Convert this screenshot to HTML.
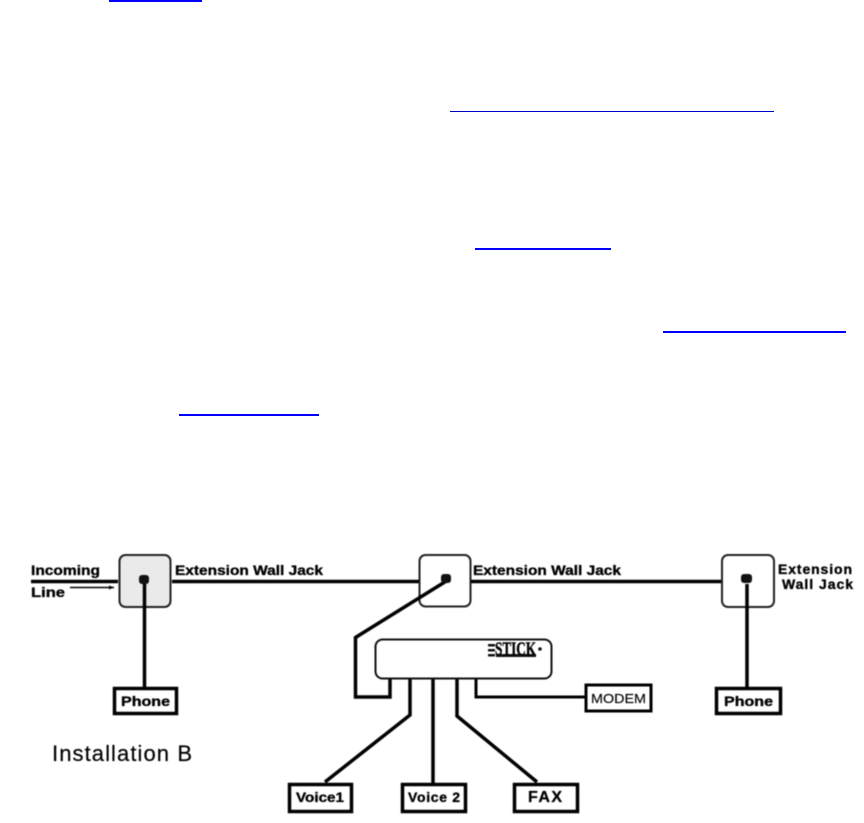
<!DOCTYPE html>
<html><head><meta charset="utf-8"><style>
html,body{margin:0;padding:0;background:#fff;width:864px;height:823px;overflow:hidden}
svg{position:absolute;left:0;top:0}
text{font-family:"Liberation Sans",sans-serif;fill:#000}
.b{font-weight:bold;font-size:14px;stroke:#000;stroke-width:.35px}
</style></head><body>
<svg width="864" height="823" viewBox="0 0 864 823" xmlns="http://www.w3.org/2000/svg">
<rect x="109" y="0" width="93" height="2" fill="#00f"/>
<rect x="450" y="111" width="324" height="1" fill="#00c"/>
<rect x="475" y="248" width="136" height="2" fill="#00f"/>
<rect x="663" y="331" width="183" height="2" fill="#00f"/>
<rect x="179" y="414" width="140" height="2" fill="#00f"/>
<g style="filter:blur(0.4px)">
<g fill="none" stroke="#000">
<rect x="119.500" y="555" width="51" height="52" rx="6" fill="#eaeaea" stroke="#222" stroke-width="2"/>
<rect x="419.500" y="555" width="51" height="51.500" rx="6" fill="#fff" stroke="#222" stroke-width="2"/>
<rect x="722" y="555" width="52" height="52" rx="6" fill="#fff" stroke="#222" stroke-width="2"/>
<path d="M31 581.500H118M172 581.500H419M471 581.500H721" stroke-width="3.500"/>
<path d="M70 587.500H114" stroke-width="1.500"/>
<path d="M144.500 582V688M747 584V688" stroke-width="3.500"/>
<path d="M448 580L355.500 637.500V697H390V679" stroke-width="3.500"/>
<path d="M410 679V715L325 782M433 679V783M457 679V716L537 782" stroke-width="3.500"/>
<path d="M476 679V697H585" stroke-width="3"/>
<rect x="375.500" y="639.500" width="176" height="39" rx="7" fill="#fff" stroke="#111" stroke-width="2"/>
<rect x="114.500" y="688.500" width="62" height="25" fill="#fff" stroke-width="3.500"/>
<rect x="716.500" y="688.500" width="64" height="25" fill="#fff" stroke-width="3.500"/>
<rect x="586" y="685" width="65" height="26" fill="#fff" stroke-width="3"/>
<rect x="289.500" y="784.500" width="62" height="27" fill="#fff" stroke-width="3.500"/>
<rect x="402.500" y="784.500" width="63" height="27" fill="#fff" stroke-width="3.500"/>
<rect x="514.500" y="784.500" width="63" height="27" fill="#fff" stroke-width="3.500"/>
</g>
<g fill="#111">
<rect x="139" y="575" width="10" height="9" rx="3"/>
<rect x="441" y="574" width="10" height="9" rx="3"/>
<rect x="741" y="574" width="11" height="9" rx="3"/>
<circle cx="540" cy="649" r="1.800"/>
<rect x="496" y="654" width="40" height="3"/>
<rect x="488" y="644" width="7" height="2.500"/><rect x="488" y="649" width="7" height="2.500"/><rect x="488" y="654" width="7" height="2.500"/>
</g>
<path d="M114 587.500l-5 -2v4z" fill="#000"/>
<text x="495" y="655" font-size="19" font-weight="bold" textLength="41" lengthAdjust="spacingAndGlyphs" style="font-family:'Liberation Serif',serif;stroke:#000;stroke-width:.4px">STICK</text>
<text class="b" x="31" y="575" textLength="69" lengthAdjust="spacingAndGlyphs">Incoming</text>
<text class="b" x="31" y="597" textLength="34" lengthAdjust="spacingAndGlyphs">Line</text>
<text class="b" x="175" y="575" textLength="148" lengthAdjust="spacingAndGlyphs">Extension Wall Jack</text>
<text class="b" x="473" y="575" textLength="148" lengthAdjust="spacingAndGlyphs">Extension Wall Jack</text>
<text class="b" x="778" y="574" textLength="74" lengthAdjust="spacing">Extension</text>
<text class="b" x="782" y="589" textLength="71" lengthAdjust="spacing">Wall Jack</text>
<text class="b" x="121" y="706" textLength="49" lengthAdjust="spacingAndGlyphs">Phone</text>
<text class="b" x="724" y="706" textLength="49" lengthAdjust="spacingAndGlyphs">Phone</text>
<text x="591" y="703" font-size="13" textLength="55" lengthAdjust="spacingAndGlyphs" style="stroke:#000;stroke-width:.15px">MODEM</text>
<text class="b" x="296" y="802" textLength="48" lengthAdjust="spacingAndGlyphs">Voice1</text>
<text class="b" x="408" y="802" textLength="52" lengthAdjust="spacing">Voice 2</text>
<text x="528" y="802" font-size="16" font-weight="bold" textLength="34" lengthAdjust="spacing" style="stroke:#000;stroke-width:.3px">FAX</text>
<text x="52" y="761" font-size="22" textLength="140" lengthAdjust="spacing" style="stroke:#000;stroke-width:.2px">Installation B</text>
</g>
</svg>
</body></html>
